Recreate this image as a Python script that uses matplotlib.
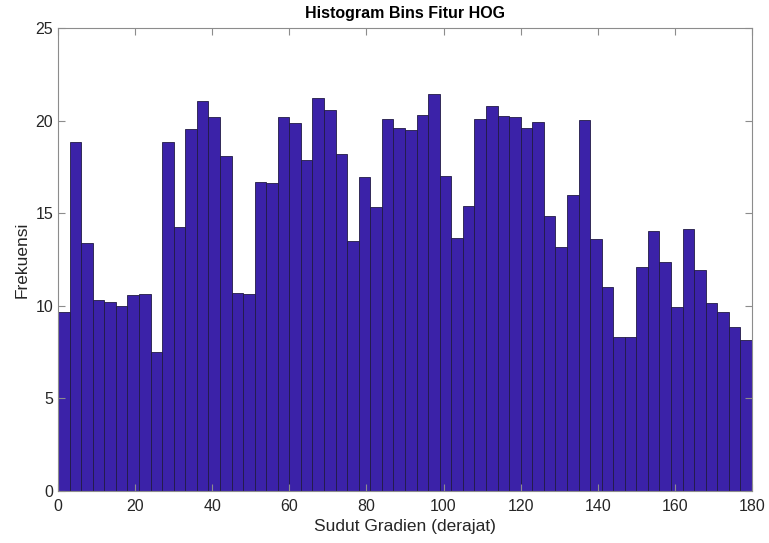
import numpy as np
import matplotlib
matplotlib.use("Agg")
from matplotlib import pyplot as plt

# bin edges of the HOG orientation histogram (60 bins of 3 degrees)
bin_edges = np.arange(0, 181, 3)

# frequency of every bin
freq = [9.64, 18.85, 13.39, 10.34, 10.22, 9.98, 10.59, 10.63, 7.48, 18.86,
        14.23, 19.55, 21.06, 20.20, 18.11, 10.67, 10.63, 16.67, 16.63, 20.18,
        19.86, 17.89, 21.21, 20.56, 18.18, 13.50, 16.94, 15.33, 20.07, 19.59,
        19.50, 20.32, 21.42, 17.01, 13.64, 15.37, 20.11, 20.77, 20.27, 20.20,
        19.60, 19.95, 14.83, 13.19, 15.98, 20.05, 13.59, 11.01, 8.32, 8.29,
        12.09, 14.04, 12.36, 9.96, 14.14, 11.91, 10.14, 9.64, 8.85, 8.18]

x_ticks = np.arange(0, 181, 20)
y_ticks = np.arange(0, 26, 5)

plt.rcParams['font.family'] = ['Liberation Sans', 'DejaVu Sans']

fig = plt.figure(figsize=(7.69, 5.43), dpi=100)
ax = fig.add_axes([58 / 769, 1 - 491 / 543, 694 / 769, 463 / 543])

ax.bar(bin_edges[:-1], freq, width=np.diff(bin_edges), align='edge',
       color='#3b22a8', edgecolor='#211a45', linewidth=0.6)

ax.set_xlim(0, 180)
ax.set_ylim(0, 25)
ax.set_xticks(x_ticks)
ax.set_yticks(y_ticks)

# matlab-like box with inward ticks on all sides
for sp in ax.spines.values():
    sp.set_color('#8c8c8c')
    sp.set_linewidth(0.8)
ax.tick_params(direction='in', length=5, width=0.8, color='#8c8c8c',
               top=True, right=True, labelsize=11.5, labelcolor='#262626')
ax.tick_params(axis='x', pad=6)

ax.set_xlabel('Sudut Gradien (derajat)', fontsize=12.5, color='#262626', labelpad=3)
ax.set_ylabel('Frekuensi', fontsize=12.5, color='#262626', labelpad=4)
ax.set_title('Histogram Bins Fitur HOG', fontsize=11.5, fontweight='bold', pad=7)

fig.savefig('out.png', dpi=100)
